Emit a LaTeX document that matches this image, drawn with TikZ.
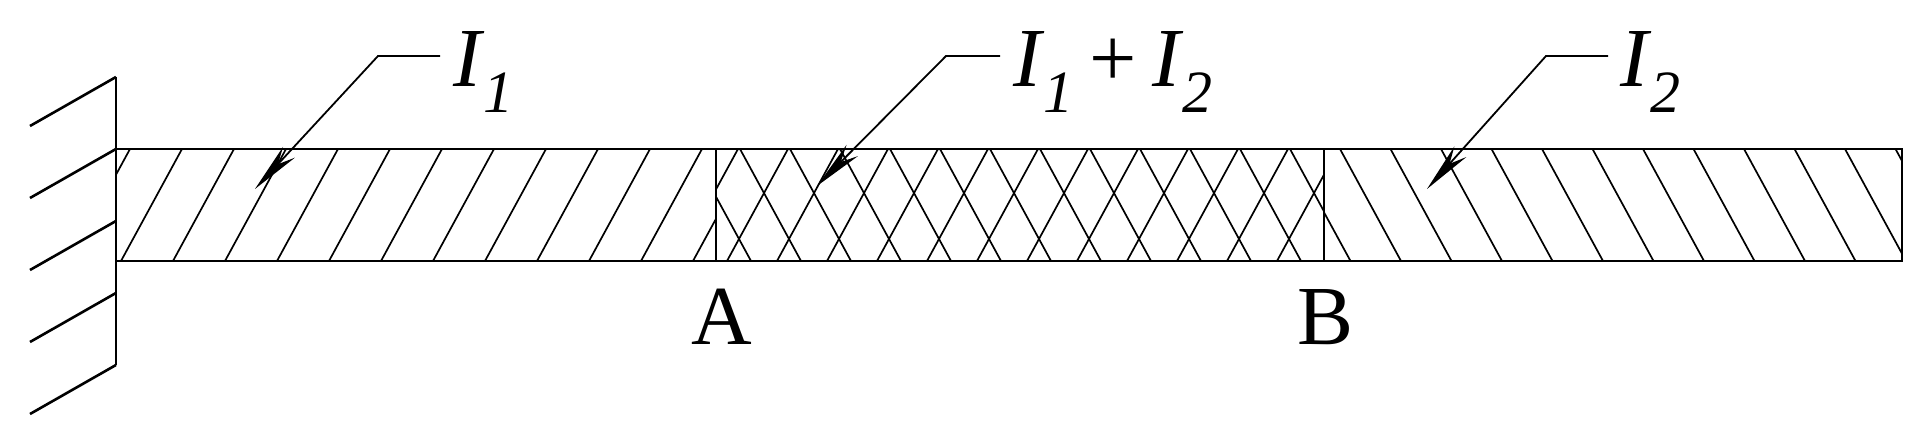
\documentclass[tikz,border=0pt]{standalone}
\usepackage{fontspec}
\setmainfont{Liberation Serif}
\usetikzlibrary{arrows.meta}
\newcommand{\subs}[1]{\kern1pt\raisebox{-0.3em}{\fontsize{30}{30}\selectfont #1}}
\begin{document}
\begin{tikzpicture}[x=0.5pt,y=-0.5pt,
  outline/.style={line width=1.3pt},
  hatch/.style={line width=0.85pt},
  leader/.style={line width=0.9pt,-{Stealth[length=25pt,width=8pt]}},
  lbl/.style={font=\fontsize{42}{42}\selectfont\itshape,anchor=base west,inner sep=0pt},
  pt/.style={font=\fontsize{42}{42}\selectfont,anchor=base,inner sep=0pt}]
\useasboundingbox (0,0) rectangle (1918,437);
% wall
\draw[outline] (116,77) -- (116,365);
\foreach \y in {77,149,221,293,365}
  \draw[outline] (116,\y) -- (30,\y+49);
% hatching
\begin{scope}
\clip (116,149) rectangle (716,261);
\foreach \k in {-2,...,12} \draw[hatch] (173+52*\k,261) -- (234+52*\k,149);
\end{scope}
\begin{scope}
\clip (716,149) rectangle (1324,261);
\foreach \k in {-3,...,12} \draw[hatch] (727+50*\k,261) -- (788+50*\k,149);
\foreach \k in {-3,...,12} \draw[hatch] (740+50*\k,149) -- (801+50*\k,261);
\end{scope}
\begin{scope}
\clip (1324,149) rectangle (1902,261);
\foreach \k in {-2,...,12} \draw[hatch] (1340+50.5*\k,149) -- (1401+50.5*\k,261);
\end{scope}
\draw[outline] (116,149) rectangle (1902,261);
\draw[hatch,line width=1pt] (716,149) -- (716,261);
\draw[hatch,line width=1pt] (1324,149) -- (1324,261);
% labels
\node[pt] (A) at (722,345) {A};
\node[pt] (B) at (1326,345) {B};
\node[lbl] (l1) at (453,87) {I\subs{1}};
\node[lbl] (l12) at (1013,87) {I\subs{1}\kern8pt{\upshape +}\kern8pt I\subs{2}};
\node[lbl] (l2) at (1620,87) {I\subs{2}};
\coordinate (t1) at (255,189);
\coordinate (t12) at (817,186);
\coordinate (t2) at (1427,189);
\draw[leader] (440,56) -- (378,56) -- (t1);
\draw[leader] (1000,56) -- (946,56) -- (t12);
\draw[leader] (1608,56) -- (1546,56) -- (t2);
\end{tikzpicture}
\end{document}
